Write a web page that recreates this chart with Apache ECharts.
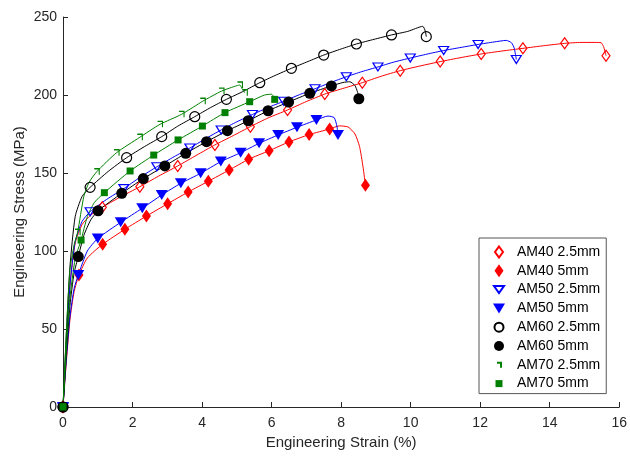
<!DOCTYPE html>
<html>
<head>
<meta charset="utf-8">
<script src="https://cdn.jsdelivr.net/npm/echarts@6/dist/echarts.min.js"></script>
<style>html,body{margin:0;padding:0;background:#fff;}#c{width:630px;height:461px;}</style>
</head>
<body>
<div id="c"></div>
<script>
// Tick labels
const xTicks = [0, 2, 4, 6, 8, 10, 12, 14, 16];
const yTicks = [0, 50, 100, 150, 200, 250];
const seriesNames = ['AM40 2.5mm', 'AM40 5mm', 'AM50 2.5mm', 'AM50 5mm', 'AM60 2.5mm', 'AM60 5mm', 'AM70 2.5mm', 'AM70 5mm'];

// Curves [strain %, stress MPa]
const am40_25_curve = [[0,0],[0.1,40],[0.2,78],[0.35,105],[0.55,117],[0.8,123],[1.13,128],[1.6,134],[2.21,141.2],[2.75,148],[3.3,154.5],[3.85,161.5],[4.37,168],[4.9,174],[5.39,179.7],[5.9,185.3],[6.46,190.4],[7.0,195.8],[7.53,200.6],[8.1,204.5],[8.61,207.9],[9.15,212],[9.7,215.6],[10.27,218.6],[10.85,221.4],[11.45,224],[12.03,226.3],[12.63,228.2],[13.23,229.9],[13.83,231.6],[14.43,233.1],[14.9,233.7],[15.3,233.7],[15.48,233.5],[15.55,231],[15.62,225.2]];
const am40_25_marks = [[0,0],[1.13,128],[2.21,141.2],[3.3,154.5],[4.37,168],[5.39,179.7],[6.46,190.4],[7.53,200.6],[8.61,207.9],[9.7,215.6],[10.85,221.4],[12.03,226.3],[13.23,229.9],[14.43,233.1],[15.62,225.2]];

const am40_5_curve = [[0,0],[0.1,30],[0.2,56],[0.32,74],[0.46,84.6],[0.7,95.5],[1.14,104.3],[1.78,113.9],[2.4,122.4],[3.01,130.3],[3.6,137.8],[4.18,144.7],[4.78,151.9],[5.34,158.8],[5.93,164.3],[6.5,169.9],[7.08,174.6],[7.67,178.2],[7.95,180.2],[8.2,179.5],[8.4,175],[8.53,167],[8.63,154],[8.7,142.1]];
const am40_5_marks = [[0,0],[0.46,84.6],[1.14,104.3],[1.78,113.9],[2.4,122.4],[3.01,130.3],[3.6,137.8],[4.18,144.7],[4.78,151.9],[5.34,158.8],[5.93,164.3],[6.5,169.9],[7.08,174.6],[7.67,178.2],[8.7,142.1]];

const am50_25_curve = [[0,0],[0.1,42],[0.2,78],[0.35,106],[0.55,119],[0.78,125.2],[1.25,133],[1.75,140],[2.2,147],[2.7,154],[3.2,160.5],[3.65,166],[4.1,172],[4.55,177.6],[5.0,182.8],[5.45,187.5],[5.9,192],[6.35,196],[6.8,200.2],[7.25,204],[7.7,208],[8.15,211.7],[8.6,215],[9.06,218],[9.5,221],[9.99,223.7],[10.47,226.2],[10.95,228.5],[11.45,230.5],[11.94,232.4],[12.4,234],[12.75,235],[12.9,233.5],[12.98,230],[13.04,222.8]];
const am50_25_marks = [[0,0],[0.78,125.2],[1.75,140],[2.7,154],[3.65,166],[4.55,177.6],[5.45,187.5],[6.35,196],[7.25,204],[8.15,211.7],[9.06,218],[9.99,223.7],[10.95,228.5],[11.94,232.4],[13.04,222.8]];

const am50_5_curve = [[0,0],[0.1,32],[0.2,58],[0.32,76],[0.44,84.6],[0.7,100],[1.0,108],[1.66,118.4],[2.28,127.4],[2.84,135.9],[3.39,143.4],[3.96,149.8],[4.54,157.3],[5.11,163],[5.64,169],[6.19,174.4],[6.73,179.3],[7.29,184],[7.62,186.5],[7.8,185.5],[7.88,180],[7.91,174.4]];
const am50_5_marks = [[0,0],[0.44,84.6],[1.0,108],[1.66,118.4],[2.28,127.4],[2.84,135.9],[3.39,143.4],[3.96,149.8],[4.54,157.3],[5.11,163],[5.64,169],[6.19,174.4],[6.73,179.3],[7.29,184],[7.91,174.4]];

const am60_25_curve = [[0,0],[0.1,48],[0.2,90],[0.35,122],[0.55,135],[0.78,140.8],[1.3,151],[1.83,159.8],[2.35,167],[2.84,173.3],[3.3,180],[3.79,186.1],[4.25,192],[4.7,197.2],[5.2,202.5],[5.66,207.9],[6.1,212.5],[6.57,217.1],[7.05,221.5],[7.5,225.6],[8.0,229.5],[8.44,232.7],[8.95,235.7],[9.45,238.5],[9.92,240.8],[10.35,244],[10.42,241],[10.45,237.4]];
const am60_25_marks = [[0,0],[0.78,140.8],[1.83,159.8],[2.84,173.3],[3.79,186.1],[4.7,197.2],[5.66,207.9],[6.57,217.1],[7.5,225.6],[8.44,232.7],[9.45,238.5],[10.45,237.4]];

const am60_5_curve = [[0,0],[0.1,35],[0.2,65],[0.32,86],[0.44,96.4],[0.6,110],[0.8,120],[1.01,125.8],[1.69,137],[2.31,146.4],[2.93,154.5],[3.53,162.6],[4.13,170.1],[4.73,177.1],[5.33,183.5],[5.9,189.9],[6.49,195.5],[7.1,201.1],[7.72,205.8],[8.05,208],[8.25,208.5],[8.4,206],[8.47,202],[8.51,197.6]];
const am60_5_marks = [[0,0],[0.44,96.4],[1.01,125.8],[1.69,137],[2.31,146.4],[2.93,154.5],[3.53,162.6],[4.13,170.1],[4.73,177.1],[5.33,183.5],[5.9,189.9],[6.49,195.5],[7.1,201.1],[7.72,205.8],[8.51,197.6]];

const am70_25_curve = [[0,0],[0.1,50],[0.2,88],[0.32,104],[0.42,112],[0.6,135],[0.75,144],[0.97,150.8],[1.54,163],[2.21,172.9],[2.79,181.2],[3.41,187.6],[4.02,196],[4.56,202.5],[5.0,206],[5.09,206.4],[5.15,204],[5.23,201.5]];
const am70_25_marks = [[0,0],[0.42,112],[0.97,150.8],[1.54,163],[2.21,172.9],[2.79,181.2],[3.41,187.6],[4.02,196],[4.56,202.5],[5.09,206.4],[5.23,201.5]];

const am70_5_curve = [[0,0],[0.1,38],[0.2,70],[0.35,95],[0.52,107],[0.7,122],[0.9,131],[1.19,137.4],[1.93,151.3],[2.61,161.5],[3.31,171.2],[4.01,180.1],[4.66,188.7],[5.37,195.7],[5.8,200],[6.0,200.5],[6.06,199],[6.09,197.2]];
const am70_5_marks = [[0,0],[0.52,107],[1.19,137.4],[1.93,151.3],[2.61,161.5],[3.31,171.2],[4.01,180.1],[4.66,188.7],[5.37,195.7],[6.09,197.2]];

const curves = [am40_25_curve, am40_5_curve, am50_25_curve, am50_5_curve, am60_25_curve, am60_5_curve, am70_25_curve, am70_5_curve];
const marks = [am40_25_marks, am40_5_marks, am50_25_marks, am50_5_marks, am60_25_marks, am60_5_marks, am70_25_marks, am70_5_marks];

const colors = ['#ff0000', '#ff0000', '#0000ff', '#0000ff', '#000000', '#000000', '#008000', '#008000'];
const styles = [
  { symbol: 'diamond', size: [8, 11], filled: false, rotate: 0 },
  { symbol: 'diamond', size: [9, 13], filled: true, rotate: 0 },
  { symbol: 'triangle', size: [10, 8], filled: false, rotate: 180 },
  { symbol: 'triangle', size: [12, 10], filled: true, rotate: 180 },
  { symbol: 'circle', size: 10, filled: false, rotate: 0 },
  { symbol: 'circle', size: 11, filled: true, rotate: 0 },
  { symbol: 'path://M0,0 L10,0 L10,12', size: [5, 6], filled: false, rotate: 0 },
  { symbol: 'rect', size: 7, filled: true, rotate: 0 }
];
// legend icons drawn in a 26x14 box (bounding moves keep the box size)
const box = 'M0,0 M26,14 ';
const legendIcons = [
  'path://' + box + 'M13,1.5 L17,7 L13,12.5 L9,7 Z',
  'path://' + box + 'M13,0.5 L17.5,7 L13,13.5 L8.5,7 Z',
  'path://' + box + 'M8,3.5 L18,3.5 L13,10.5 Z',
  'path://' + box + 'M7,2 L19,2 L13,12 Z',
  'path://' + box + 'M8.5,7 A4.5,4.5 0 1 0 17.5,7 A4.5,4.5 0 1 0 8.5,7 Z',
  'path://' + box + 'M8,7 A5,5 0 1 0 18,7 A5,5 0 1 0 8,7 Z',
  'path://' + box + 'M11,5 L15,5 L15,10',
  'path://' + box + 'M9.5,3.5 L16.5,3.5 L16.5,10.5 L9.5,10.5 Z'
];

const series = [];
seriesNames.forEach((n, i) => {
  series.push({
    name: n + ' curve', type: 'line', data: curves[i], showSymbol: false, symbol: 'none',
    smooth: 0.2, lineStyle: { color: colors[i], width: 1 }, z: 2 + i, silent: true, animation: false
  });
});
seriesNames.forEach((n, i) => {
  const s = styles[i];
  series.push({
    name: n, type: 'scatter', data: marks[i], symbol: s.symbol, symbolSize: s.size, symbolRotate: s.rotate,
    itemStyle: s.filled ? { color: colors[i], opacity: 1 } : { color: 'rgba(0,0,0,0)', borderColor: colors[i], borderWidth: 1.2, opacity: 1 },
    z: 20 + i, animation: false
  });
});

const chart = echarts.init(document.getElementById('c'), null, { renderer: 'canvas' });
const txt = '#262626';
const font = 'Liberation Sans, Arial, sans-serif';
chart.setOption({
  backgroundColor: '#ffffff',
  animation: false,
  textStyle: { fontFamily: font },
  grid: { left: 63, right: 10, top: 17, bottom: 54, containLabel: false },
  xAxis: {
    type: 'value', min: xTicks[0], max: xTicks[xTicks.length - 1], interval: 2,
    name: 'Engineering Strain (%)', nameLocation: 'middle', nameGap: 27,
    nameTextStyle: { fontSize: 15, color: txt, fontFamily: font },
    axisLine: { show: true, lineStyle: { color: txt, width: 1 } },
    axisTick: { show: true, inside: true, length: 5, lineStyle: { color: txt } },
    axisLabel: { fontSize: 14, color: txt, margin: 9, fontFamily: font },
    splitLine: { show: false }
  },
  yAxis: {
    type: 'value', min: yTicks[0], max: yTicks[yTicks.length - 1], interval: 50,
    name: 'Engineering Stress (MPa)', nameLocation: 'middle', nameGap: 36, nameMoveOverlap: false,
    nameTextStyle: { fontSize: 15, color: txt, fontFamily: font },
    axisLine: { show: true, lineStyle: { color: txt, width: 1 } },
    axisTick: { show: true, inside: true, length: 5, lineStyle: { color: txt } },
    axisLabel: { fontSize: 14, color: txt, margin: 6, fontFamily: font },
    splitLine: { show: false }
  },
  legend: {
    data: seriesNames.map((n, i) => ({ name: n, icon: legendIcons[i] })),
    orient: 'vertical', left: 479, top: 238, symbolRotate: 0,
    padding: [6, 6, 3, 6], itemGap: 3.8, itemWidth: 26, itemHeight: 14,
    borderColor: '#555555', borderWidth: 1, backgroundColor: '#ffffff',
    textStyle: { fontSize: 14, color: '#000000', fontFamily: font, lineHeight: 14 },
    selectedMode: false
  },
  series: series
});
</script>
</body>
</html>
